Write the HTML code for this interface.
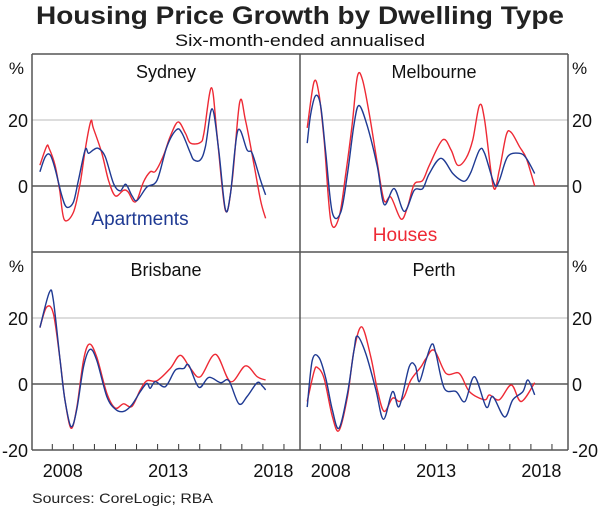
<!DOCTYPE html>
<html><head><meta charset="utf-8"><style>
body{margin:0;background:#fff;}
svg{display:block;font-family:"Liberation Sans",Arial,sans-serif;}
</style></head><body>
<svg id="chart" width="600" height="510" viewBox="0 0 600 510">
<text x="300" y="24" text-anchor="middle" font-size="25" font-weight="bold" fill="#222" textLength="528" lengthAdjust="spacingAndGlyphs">Housing Price Growth by Dwelling Type</text>
<text x="300" y="46" text-anchor="middle" font-size="17" fill="#111" textLength="250" lengthAdjust="spacingAndGlyphs">Six-month-ended annualised</text>
<text x="32" y="503" font-size="14" fill="#222" textLength="181" lengthAdjust="spacingAndGlyphs">Sources: CoreLogic; RBA</text>
<g id="plots"></g>
</svg>
<script>
// ---- data ----
const yTicks = [-20, 0, 20];
const xTickYears = [2007,2008,2009,2010,2011,2012,2013,2014,2015,2016,2017,2018,2019];
const xLabelYears = [2008, 2013, 2018];
const panelNames = ["Sydney","Melbourne","Brisbane","Perth"];

const sydHouseDates = [2007.41,2007.73,2007.85,2008.13,2008.35,2008.57,2009.0,2009.32,2009.56,2009.83,2009.95,2010.35,2010.67,2010.99,2011.38,2011.6,2011.86,2012.05,2012.33,2012.65,2012.9,2013.29,2013.6,2013.97,2014.32,2014.56,2015.03,2015.2,2015.56,2015.83,2016.22,2016.54,2016.9,2017.17,2017.57,2017.89,2018.13];
const sydHouseVals  = [6.3,12,11.4,6.3,-1.3,-10.2,-8,0.7,11,19.6,17.5,10,1.7,-3,-1.3,-1.8,-4.7,-3.9,1.2,4.3,4.5,9.4,15,19.4,16,13,13.2,16,29.8,15,-7.4,1.7,25.4,20,6.8,-4.4,-9.8];
const sydAptDates = [2007.41,2007.67,2007.9,2008.13,2008.45,2008.68,2009.0,2009.24,2009.56,2009.72,2009.96,2010.19,2010.51,2010.91,2011.22,2011.49,2011.78,2012.02,2012.49,2012.97,2013.44,2013.89,2014.16,2014.56,2014.72,2015.03,2015.27,2015.59,2015.9,2016.22,2016.46,2016.81,2017.25,2017.49,2017.89,2018.13];
const sydAptVals  = [4.3,8.9,9.4,5.3,-2.9,-6.4,-4.9,1.7,11,9.9,11,11.4,8.9,0.7,-1.5,0.5,-2.9,-4.4,-0.3,1.7,11.9,17,16,9.9,7.9,7.9,11.9,23.4,10.9,-7.1,-2.3,16.8,10.9,9.9,1.7,-2.7];

const melHouseDates = [2007.38,2007.7,2007.94,2008.18,2008.5,2008.89,2009.21,2009.52,2009.76,2010.0,2010.32,2010.71,2011.03,2011.35,2011.83,2012.14,2012.46,2012.86,2013.18,2013.81,2014.21,2014.52,2014.92,2015.24,2015.56,2015.8,2016.22,2016.5,2016.83,2017.07,2017.46,2017.78,2018.18];
const melHouseVals  = [17.6,31.5,27.8,14,-10.5,-9.5,3.8,19,33.2,32.3,22,6.8,-4.4,-3.4,-10,-6.4,0.5,1.7,6.3,14,10.9,6.3,8.4,14,24.5,20,-0.3,4.8,15.5,16.2,11.9,8.4,0];
const melAptDates = [2007.38,2007.54,2007.78,2008.02,2008.26,2008.57,2008.97,2009.29,2009.6,2009.84,2010.24,2010.71,2011.03,2011.51,2011.99,2012.46,2012.86,2013.18,2013.73,2014.29,2014.69,2014.92,2015.16,2015.56,2015.8,2016.27,2016.5,2016.9,2017.46,2017.78,2018.18];
const melAptVals  = [13,21.6,27.4,24.2,9.9,-8,-8,3.8,18.6,24.4,18,5.8,-5.6,-0.8,-7.7,-1.3,-0.8,3.8,8.4,3.8,1.7,1.7,4.3,10.9,9.9,0.5,1.7,8.9,9.9,8.4,3.8];

const briHouseDates = [2007.41,2007.73,2008.05,2008.37,2008.6,2008.89,2009.16,2009.48,2009.76,2010.11,2010.59,2010.99,2011.38,2011.78,2012.18,2012.49,2012.97,2013.6,2014.08,2014.56,2015.03,2015.75,2016.46,2017.17,2017.73,2018.13];
const briHouseVals  = [17.1,23.3,21.3,7.2,-4.8,-13.4,-7.3,7.2,12.1,8.2,-2.8,-7.3,-6,-6.8,-1.8,1,1,4.7,8.7,4.7,2.2,9,0.7,5.5,2.2,1.2];
const briAptDates = [2007.41,2007.86,2008.05,2008.37,2008.6,2008.89,2009.16,2009.48,2009.79,2010.11,2010.59,2010.99,2011.38,2011.78,2012.18,2012.49,2012.65,2012.89,2013.37,2013.84,2014.24,2014.48,2014.96,2015.43,2015.99,2016.38,2016.86,2017.25,2017.73,2017.97,2018.13];
const briAptVals  = [17.1,27.8,25.3,7.2,-4.8,-12.9,-7.8,5.2,10.5,7.2,-3.8,-7.6,-8.3,-6.3,-2.3,0.2,-1.3,0.7,-0.8,4.2,4.7,5.7,-1,2,0.4,1,-6,-3.8,0.4,-0.6,-1.8];

const perHouseDates = [2007.38,2007.7,2007.86,2008.18,2008.57,2008.89,2009.29,2009.6,2009.97,2010.4,2010.71,2011.03,2011.43,2011.75,2011.99,2012.3,2012.78,2013.02,2013.41,2013.97,2014.6,2015.08,2015.8,2016.03,2016.5,2017.07,2017.54,2018.18];
const perHouseVals  = [-5.3,3.7,5,1.7,-9.8,-14.1,-3.8,10.2,17.3,8.2,-1.8,-8.3,-4.3,-5.3,-3.8,1.2,5.2,7.7,10.2,3.2,3.2,-2.3,-4.8,-3.3,-4.8,-0.3,-5.3,0.4];
const perAptDates = [2007.38,2007.62,2007.94,2008.26,2008.57,2008.89,2009.29,2009.6,2009.76,2010.16,2010.64,2011.0,2011.43,2011.75,2012.22,2012.51,2012.7,2013.02,2013.3,2013.49,2013.89,2014.45,2014.87,2015.32,2015.88,2016.19,2016.75,2017.14,2017.62,2017.86,2018.18];
const perAptVals  = [-7,7.2,8,1.7,-7.8,-13.4,-2.8,10.2,14.5,9.2,-1.8,-10.7,-2.3,-6.8,5.2,5.5,0.7,7.2,12.1,9.2,-1.3,-2.3,-5.3,2.2,-7,-3.8,-10,-4.8,-2.3,1.2,-3.3];

// ---- layout ----
const NS = "http://www.w3.org/2000/svg";
const g = document.getElementById("plots");
const L = 32, M = 300, R = 568, T = 54, H = 252, B = 450;
const panels = [
  {name:"Sydney", x0:L, x1:M, y0:T, y1:H, house:[sydHouseDates,sydHouseVals], apt:[sydAptDates,sydAptVals]},
  {name:"Melbourne", x0:M, x1:R, y0:T, y1:H, house:[melHouseDates,melHouseVals], apt:[melAptDates,melAptVals]},
  {name:"Brisbane", x0:L, x1:M, y0:H, y1:B, house:[briHouseDates,briHouseVals], apt:[briAptDates,briAptVals]},
  {name:"Perth", x0:M, x1:R, y0:H, y1:B, house:[perHouseDates,perHouseVals], apt:[perAptDates,perAptVals]}
];
function mk(tag, attrs, parent){const e=document.createElementNS(NS,tag);for(const k in attrs)e.setAttribute(k,attrs[k]);(parent||g).appendChild(e);return e;}
function smoothPath(pts){
  let d="M"+pts[0][0].toFixed(1)+","+pts[0][1].toFixed(1);
  for(let i=0;i<pts.length-1;i++){
    const p0=pts[Math.max(0,i-1)],p1=pts[i],p2=pts[i+1],p3=pts[Math.min(pts.length-1,i+2)];
    const c1=[p1[0]+(p2[0]-p0[0])/6,p1[1]+(p2[1]-p0[1])/6];
    const c2=[p2[0]-(p3[0]-p1[0])/6,p2[1]-(p3[1]-p1[1])/6];
    d+=" C"+c1[0].toFixed(1)+","+c1[1].toFixed(1)+" "+c2[0].toFixed(1)+","+c2[1].toFixed(1)+" "+p2[0].toFixed(1)+","+p2[1].toFixed(1);
  }
  return d;
}
panels.forEach((p,pi)=>{
  const xs = yr => p.x0 + 20.3 + (yr-2008)*21.06;
  const ys = v => p.y0 + (40 - v)/60*(p.y1-p.y0);
  const gl = mk("line",{x1:p.x0,x2:p.x1,y1:ys(20),y2:ys(20),stroke:"#bbb","stroke-width":1});
  
  
  const zl = mk("line",{x1:p.x0,x2:p.x1,y1:ys(0),y2:ys(0),stroke:"#333","stroke-width":1.2});
  
  
  const t = mk("text",{x:(p.x0+p.x1)/2,y:p.y0+24,"text-anchor":"middle","font-size":"18",fill:"#111"});
  t.textContent=p.name;
  
  
  if(p.y1===B){
    xTickYears.forEach(yr=>{
      const x=xs(yr);
      if(x<=p.x0+1||x>=p.x1-1) return;
      const tk=mk("line",{x1:x,x2:x,y1:B,y2:B-6,stroke:"#333","stroke-width":1});
      
      
    });
    xLabelYears.forEach(yr=>{
      const lb=mk("text",{x:xs(yr)+10.5,y:B+27,"text-anchor":"middle","font-size":"18",fill:"#111"});
      lb.textContent=yr;
      
      
    });
  }
  [["house","#ee2a35"],["apt","#1f3a93"]].forEach(([k,c])=>{
    const [dts,vals]=p[k];
    const pts=dts.map((d,i)=>[xs(d),ys(vals[i])]);
    const path=mk("path",{d:smoothPath(pts),fill:"none",stroke:c,"stroke-width":1.4,"stroke-linejoin":"round"});
    
    
  });
  const left = p.x0===L;
  const ax = left ? L-4 : R+4;
  const anchor = left ? "end" : "start";
  yTicks.forEach(v=>{
    if(v===-20 && p.y1!==B) return;
    const lb=mk("text",{x:ax,y:ys(v)+7,"text-anchor":anchor,"font-size":"18",fill:"#111"});
    lb.textContent=v;
    
    
  });
  const pc=mk("text",{x:left?L-8:R+4,y:p.y0+20,"text-anchor":left?"end":"start","font-size":"17",fill:"#111"});
  pc.textContent="%";
  
  
});
const frame=[[L,T,R,T],[L,B,R,B],[L,T,L,B],[R,T,R,B],[M,T,M,B],[L,H,R,H]];
frame.forEach(f=>{
  const ln=mk("line",{x1:f[0],y1:f[1],x2:f[2],y2:f[3],stroke:"#555","stroke-width":1.5});
  
  
});
const la=mk("text",{x:140,y:225,"text-anchor":"middle","font-size":"19",fill:"#1f3a93"});
la.textContent="Apartments";


const lh=mk("text",{x:405,y:241,"text-anchor":"middle","font-size":"19",fill:"#ee2a35"});
lh.textContent="Houses";


</script>
</body></html>
